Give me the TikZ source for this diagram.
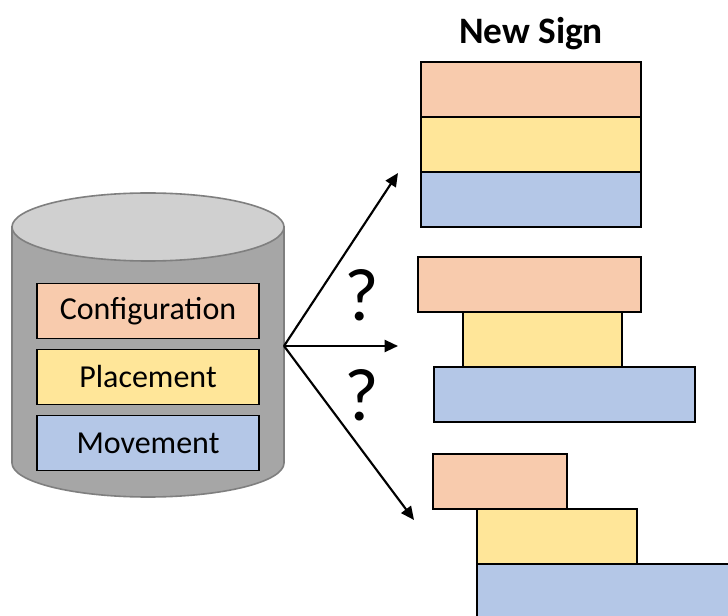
\documentclass[tikz,border=0pt]{standalone}
\usepackage{fontspec}
\setmainfont{Carlito}
\usetikzlibrary{arrows.meta,positioning}
\definecolor{SgnOrange}{HTML}{F8CBAD}
\definecolor{SgnYellow}{HTML}{FFE699}
\definecolor{SgnBlue}{HTML}{B4C7E7}
\definecolor{DbSide}{HTML}{A6A6A6}
\definecolor{DbTop}{HTML}{D0D0D0}
\definecolor{DbEdge}{HTML}{7F7F7F}

\begin{document}
\begin{tikzpicture}[
    x=0.75pt,y=-0.75pt,
    node distance=8.25pt,
    layer/.style={draw=black,line width=1.3pt,minimum width=166.5pt,minimum height=41.25pt,inner sep=0pt,outer sep=0pt,font=\fontsize{24}{28}\selectfont},
    bar/.style={draw=black,line width=1.3pt,minimum height=41.25pt,inner sep=0pt,outer sep=0pt},
    arr/.style={-{Triangle[length=10pt,width=9pt]},line width=1.6pt,black},
    ask/.style={font=\fontsize{56}{60}\selectfont,inner sep=0pt}
  ]
  \useasboundingbox (0,0) rectangle (728,616);
  \clip (0,0) rectangle (728,616);
  % database
  \filldraw[fill=DbSide,draw=DbEdge,line width=1.2pt] (12,227) -- (12,463) arc[start angle=180,end angle=0,x radius=136,y radius=34] -- (284,227) -- cycle;
  \filldraw[fill=DbTop,draw=DbEdge,line width=1.2pt] (148,227) ellipse[x radius=136,y radius=34];
  \node[layer,fill=SgnOrange] (cfg) at (148,311) {Configuration};
  \node[layer,fill=SgnYellow,below=of cfg] (plc) {Placement};
  \node[layer,fill=SgnBlue,below=of plc] (mov) {Movement};
  % arrows
  \coordinate (hub) at (284,346);
  \coordinate (tipA) at (398,173);
  \coordinate (tipB) at (398,346);
  \coordinate (tipC) at (414,520);
  \draw[arr] (hub) -- (tipA);
  \draw[arr] (hub) -- (tipB);
  \draw[arr] (hub) -- (tipC);
  \node[ask] (q1) at (362,295) {?};
  \node[ask] (q2) at (362,395) {?};
  % signs
  \node[font=\bfseries\fontsize{28}{32}\selectfont] (title) at (531,34) {New Sign};
  \node[bar,fill=SgnOrange,minimum width=165pt] (t1) at (531,89.5) {};
  \node[bar,fill=SgnYellow,minimum width=165pt,below=0pt of t1] (t2) {};
  \node[bar,fill=SgnBlue,minimum width=165pt,below=0pt of t2] (t3) {};
  \node[bar,fill=SgnOrange,minimum width=167.25pt] (m1) at (529.5,284.5) {};
  \node[bar,fill=SgnYellow,minimum width=119.25pt,below=0pt of m1,xshift=9.75pt] (m2) {};
  \node[bar,fill=SgnBlue,minimum width=195.75pt,below=0pt of m2,xshift=16.5pt] (m3) {};
  \node[bar,fill=SgnOrange,minimum width=100.5pt] (b1) at (500,481.5) {};
  \node[bar,fill=SgnYellow,minimum width=120pt,below=0pt of b1,xshift=42.75pt] (b2) {};
  \node[bar,fill=SgnBlue,minimum width=196.5pt,below=0pt of b2,xshift=38.25pt] (b3) {};
\end{tikzpicture}
\end{document}
